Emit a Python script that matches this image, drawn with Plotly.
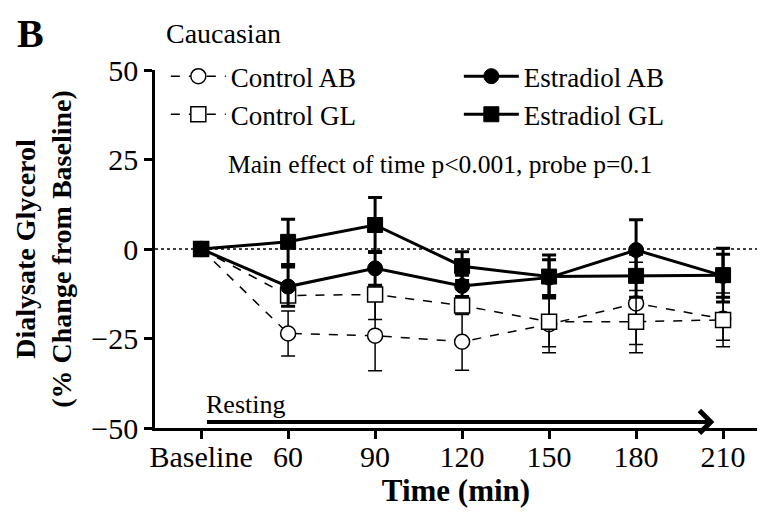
import plotly.graph_objects as go

# ---- data ----
time_labels = ["Baseline", "60", "90", "120", "150", "180", "210"]

control_ab = [0, -23.6, -24.2, -25.9, -21.0, -15.2, -19.5]
control_ab_se = [0, 6.3, 9.8, 8.0, 8.0, 11.5, 6.0]

control_gl = [0, -13.0, -12.7, -15.8, -20.3, -20.3, -19.8]
control_gl_se = [0, 3.0, 7.0, 2.5, 7.0, 8.7, 7.5]

estradiol_ab = [0, -10.5, -5.4, -10.3, -8.0, -0.3, -7.5]
estradiol_ab_se = [0, 5.5, 4.7, 3.0, 5.0, 8.5, 6.0]

estradiol_gl = [0, 2.0, 6.7, -4.8, -7.7, -7.5, -7.3]
estradiol_gl_se = [0, 6.3, 7.7, 4.0, 6.0, 6.0, 7.5]

y_ticks = [-50, -25, 0, 25, 50]

FONT = "Liberation Serif"

fig = go.Figure()

def add_series(name, y, se, filled, symbol, rank):
    if filled:
        line = dict(color="black", width=3, dash="solid")
        marker = dict(symbol=symbol, size=15, color="black",
                      line=dict(color="black", width=1))
        err = dict(type="data", array=se, visible=True, color="black",
                   thickness=3, width=7)
    else:
        line = dict(color="black", width=1.5, dash="dash")
        marker = dict(symbol=symbol, size=15, color="white",
                      line=dict(color="black", width=1.5))
        err = dict(type="data", array=se, visible=True, color="black",
                   thickness=1.5, width=7)
    fig.add_trace(go.Scatter(
        x=time_labels, y=y, name=name, mode="lines+markers",
        line=line, marker=marker, error_y=err, legendrank=rank,
    ))

add_series("Control AB", control_ab, control_ab_se, False, "circle", 1)
add_series("Control GL", control_gl, control_gl_se, False, "square", 3)
add_series("Estradiol AB", estradiol_ab, estradiol_ab_se, True, "circle", 2)
add_series("Estradiol GL", estradiol_gl, estradiol_gl_se, True, "square", 4)

# dotted zero reference line
fig.add_shape(type="line", xref="paper", yref="y", x0=0, x1=1, y0=0, y1=0,
              line=dict(color="black", width=1.5, dash="dot"), layer="below")

# resting arrow
fig.add_annotation(x=5.9, y=-48.3, ax=0.05, ay=-48.3, xref="x", yref="y",
                   axref="x", ayref="y", showarrow=True, arrowhead=4,
                   arrowsize=1.1, arrowwidth=4, arrowcolor="black", text="")
fig.add_annotation(x=0.03, y=-43.3, xref="x", yref="y", text="Resting",
                   showarrow=False, xanchor="left", yanchor="middle",
                   font=dict(family=FONT, size=26, color="black"))

fig.add_annotation(x=2.75, y=23.5, xref="x", yref="y",
                   text="Main effect of time p<0.001, probe p=0.1",
                   showarrow=False, xanchor="center", yanchor="middle",
                   font=dict(family=FONT, size=25.5, color="black"))

fig.add_annotation(x=0.015, y=1.103, xref="paper", yref="paper",
                   text="Caucasian", showarrow=False, xanchor="left",
                   yanchor="middle", font=dict(family=FONT, size=28, color="black"))
fig.add_annotation(x=-0.233, y=1.17, xref="paper", yref="paper",
                   text="<b>B</b>", showarrow=False, xanchor="left",
                   yanchor="top", font=dict(family=FONT, size=40, color="black"))

# page body adds an 8px offset, so the figure is sized/margined to compensate
fig.update_layout(
    width=759, height=504,
    margin=dict(l=147, r=10, t=62, b=84, autoexpand=False),
    plot_bgcolor="white", paper_bgcolor="white",
    font=dict(family=FONT, size=30, color="black"),
    showlegend=True,
    legend=dict(orientation="h", x=0.018, y=1.05, xanchor="left", yanchor="top",
                entrywidth=223, entrywidthmode="pixels",
                font=dict(family=FONT, size=27, color="black"),
                bgcolor="rgba(0,0,0,0)", traceorder="normal",
                itemwidth=55, tracegroupgap=0),
    xaxis=dict(
        type="category", range=[-0.53, 6.39],
        showline=True, linecolor="black", linewidth=2.5,
        ticks="outside", ticklen=8, tickwidth=2.5, tickcolor="black",
        ticklabelstandoff=-8,
        showgrid=False, zeroline=False,
        tickfont=dict(family=FONT, size=30, color="black"),
        title=dict(text="<b>Time (min)</b>", standoff=0,
                   font=dict(family=FONT, size=31, color="black")),
    ),
    yaxis=dict(
        range=[-50, 50], tickvals=y_ticks,
        showline=True, linecolor="black", linewidth=2.5,
        ticks="outside", ticklen=8, tickwidth=2.5, tickcolor="black",
        showgrid=False, zeroline=False,
        tickfont=dict(family=FONT, size=30, color="black"),
        title=dict(text="<b>Dialysate Glycerol<br>(% Change from Baseline)</b>",
                   standoff=12, font=dict(family=FONT, size=28, color="black")),
    ),
)

fig.write_html("out.html")
